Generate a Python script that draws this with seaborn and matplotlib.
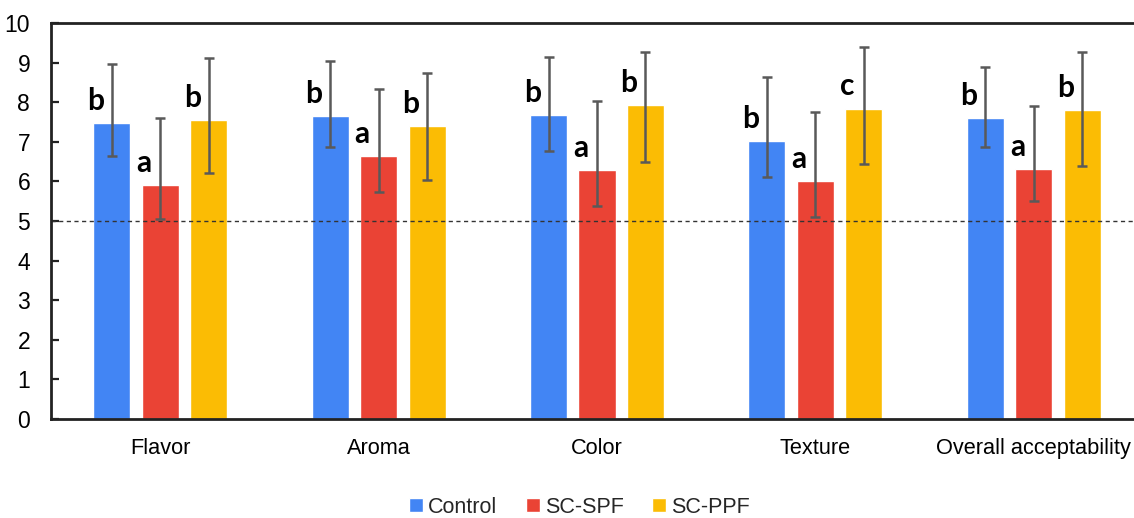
import numpy as np
import pandas as pd
import matplotlib
matplotlib.use("Agg")
import matplotlib.pyplot as plt
import seaborn as sns

categories = ["Flavor", "Aroma", "Color", "Texture", "Overall acceptability"]
groups = ["Control", "SC-SPF", "SC-PPF"]

control = [7.47, 7.66, 7.67, 7.01, 7.60]
sc_spf = [5.90, 6.65, 6.29, 6.01, 6.31]
sc_ppf = [7.54, 7.39, 7.94, 7.84, 7.81]

control_err_low = [6.64, 6.88, 6.78, 6.12, 6.86]
control_err_high = [8.96, 9.05, 9.13, 8.64, 8.88]
spf_err_low = [5.05, 5.74, 5.38, 5.10, 5.50]
spf_err_high = [7.61, 8.33, 8.04, 7.76, 7.91]
ppf_err_low = [6.21, 6.04, 6.48, 6.44, 6.40]
ppf_err_high = [9.11, 8.74, 9.28, 9.40, 9.28]

control_letters = ["b", "b", "b", "b", "b"]
spf_letters = ["a", "a", "a", "a", "a"]
ppf_letters = ["b", "b", "b", "c", "b"]

yticks = list(range(0, 11))
reference_line = 5

colors = ["#4285F4", "#EA4335", "#FBBC04"]

values = [control, sc_spf, sc_ppf]
lows = [control_err_low, spf_err_low, ppf_err_low]
highs = [control_err_high, spf_err_high, ppf_err_high]
letters = [control_letters, spf_letters, ppf_letters]

rows = []
for g, vals in zip(groups, values):
    for c, v in zip(categories, vals):
        rows.append({"Attribute": c, "Group": g, "Score": v})
df = pd.DataFrame(rows)

sns.set_style("white")
plt.rcParams["font.family"] = ["Liberation Sans", "DejaVu Sans"]

fig = plt.figure(figsize=(11.34, 5.18), dpi=100)
ax = fig.add_axes([51 / 1134, 1 - 419 / 518, (1143 - 51) / 1134, (419 - 23) / 518])

sns.barplot(data=df, x="Attribute", y="Score", hue="Group", order=categories,
            hue_order=groups, palette=colors, width=0.666, gap=0.235,
            errorbar=None, saturation=1, ax=ax)

bar_containers = list(ax.containers)
for k, cont in enumerate(bar_containers):
    xs = [p.get_x() + p.get_width() / 2 for p in cont.patches]
    vals = np.array(values[k])
    lo = vals - np.array(lows[k])
    hi = np.array(highs[k]) - vals
    ax.errorbar(xs, vals, yerr=[lo, hi], fmt="none", ecolor="#595959",
                elinewidth=1.8, capsize=3.6, capthick=1.8, zorder=3)
    for x, v, t in zip(xs, vals, letters[k]):
        ax.text(x - 0.075, v + 0.33, t, ha="center", va="baseline",
                fontsize=21.5, fontweight="bold", family=["Lato", "DejaVu Sans"],
                color="black", zorder=4)

ax.axhline(reference_line, color="#333333", lw=1.0, ls=(0, (3, 2.5)), zorder=2.5)

ax.set_ylim(0, 10)
ax.set_xlim(-0.5, len(categories) - 0.5)
ax.set_yticks(yticks)
ax.set_xlabel("")
ax.set_ylabel("")
ax.tick_params(axis="y", direction="in", length=6, width=1.6, labelsize=16.5,
               pad=15, colors="#222222", labelcolor="black", left=True)
ax.tick_params(axis="x", length=0, labelsize=15.7, pad=14, labelcolor="black")
for s in ["left", "top", "bottom", "right"]:
    ax.spines[s].set_visible(True)
    ax.spines[s].set_linewidth(2.0)
    ax.spines[s].set_color("#222222")

handles, labels = ax.get_legend_handles_labels()
ax.get_legend().remove()
fig.legend(handles, labels, loc="center", bbox_to_anchor=(0.511, 0.021),
           ncol=3, frameon=False, fontsize=15.5, handlelength=0.65,
           handleheight=0.65, handletextpad=0.25, columnspacing=1.3)

fig.savefig("out.png", dpi=100)
